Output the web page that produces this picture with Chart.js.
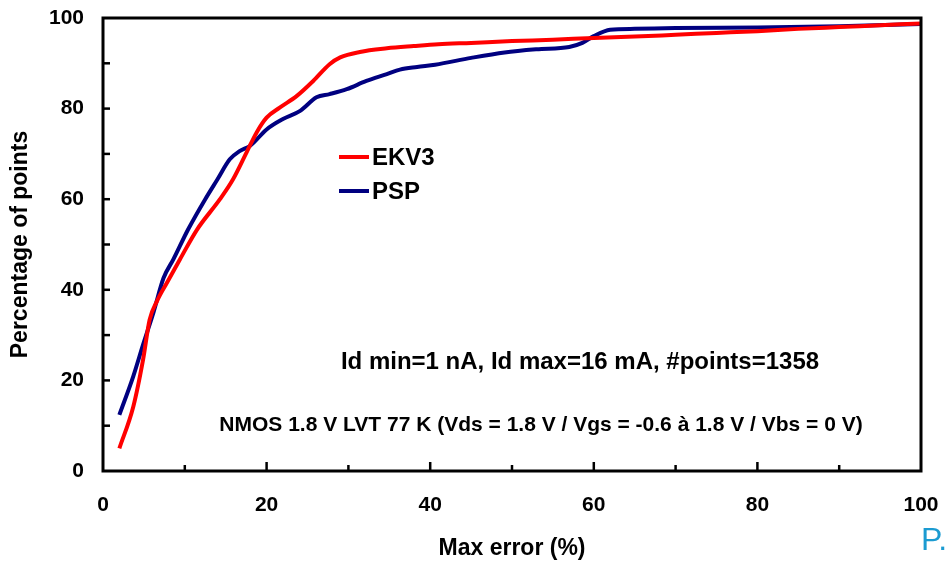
<!DOCTYPE html>
<html>
<head>
<meta charset="utf-8">
<script src="https://cdn.jsdelivr.net/npm/chart.js@4/dist/chart.umd.min.js"></script>
<style>
  body { margin: 0; background: #fff; }
  #wrap { position: relative; width: 948px; height: 563px; }
</style>
</head>
<body>
<div id="wrap"><canvas id="myChart" width="948" height="563"></canvas></div>
<script>
// values
var ekvX = [2, 3.7, 4.9, 5.7, 6.6, 7.8, 9.4, 11.5, 14.3, 15.9, 17.6, 18.8, 20, 21.6, 23.7, 25.7, 27.7, 29, 31.4, 34.7, 38, 41, 45, 50, 55, 60, 65, 70, 75, 80, 85, 90, 95, 100];
var ekvY = [5, 14.2, 24.6, 33.4, 37.5, 41.5, 46.7, 53.3, 60, 64.4, 70.5, 74.8, 78, 80.2, 82.8, 86.1, 89.8, 91.3, 92.5, 93.3, 93.8, 94.2, 94.5, 94.9, 95.2, 95.6, 95.9, 96.3, 96.7, 97.1, 97.6, 98, 98.4, 98.8];

var pspX = [2, 3.7, 4.9, 6.2, 7.4, 8.6, 10.4, 12.5, 14, 15.5, 16.7, 18, 20, 22, 24.1, 26.1, 27.7, 29.8, 32.2, 34.7, 36.3, 38.4, 40.6, 45, 49.1, 53, 57, 58.6, 60, 62, 65, 70, 80, 90, 100];
var pspY = [12.4, 20.9, 27.9, 35.2, 42.6, 46.7, 53.3, 60, 64.4, 68.8, 70.6, 71.8, 75.4, 77.7, 79.5, 82.5, 83.2, 84.3, 86.1, 87.6, 88.6, 89.2, 89.7, 91.2, 92.4, 93.1, 93.6, 94.5, 96, 97.4, 97.6, 97.8, 97.9, 98.2, 98.7];

var seriesNames = ["EKV3", "PSP"];
var seriesColors = ["#ff0000", "#000080"];
var noteLines = ["Id min=1 nA, Id max=16 mA, #points=1358",
                 "NMOS 1.8 V LVT 77 K (Vds = 1.8 V / Vgs = -0.6 à 1.8 V / Vbs = 0 V)"];

var FONT = "'Liberation Sans', Arial, sans-serif";

function toPoints(xs, ys) {
  return xs.map(function (x, i) { return { x: x, y: ys[i] }; });
}

// frame with inward ticks, legend and notes
var extras = {
  id: 'extras',
  afterDatasetsDraw: function (chart) {
    var ctx = chart.ctx;
    var a = chart.chartArea;
    var xs = chart.scales.x, ys = chart.scales.y;
    ctx.save();
    ctx.strokeStyle = '#000';
    ctx.lineWidth = 2.5;
    ctx.lineCap = 'butt';
    for (var v = 10; v < 100; v += 10) {
      var px = xs.getPixelForValue(v);
      var len = (v % 20 === 0) ? 9 : 6;
      ctx.beginPath(); ctx.moveTo(px, a.bottom); ctx.lineTo(px, a.bottom - len); ctx.stroke();
      var py = ys.getPixelForValue(v);
      ctx.beginPath(); ctx.moveTo(a.left, py); ctx.lineTo(a.left + 7, py); ctx.stroke();
    }
    ctx.lineWidth = 3;
    ctx.strokeRect(a.left, a.top, a.right - a.left, a.bottom - a.top);

    // legend
    ctx.font = 'bold 24px ' + FONT;
    ctx.textBaseline = 'middle';
    ctx.textAlign = 'left';
    for (var i = 0; i < seriesNames.length; i++) {
      var ly = 157 + i * 34;
      ctx.strokeStyle = seriesColors[i];
      ctx.lineWidth = 4;
      ctx.beginPath(); ctx.moveTo(339, ly); ctx.lineTo(369, ly); ctx.stroke();
      ctx.fillStyle = '#000';
      ctx.fillText(seriesNames[i], 372, ly + 1);
    }

    // notes
    ctx.textAlign = 'center';
    ctx.font = 'bold 24px ' + FONT;
    ctx.fillText(noteLines[0], 580, 362);
    ctx.font = 'bold 21px ' + FONT;
    ctx.fillText(noteLines[1], 541, 425);

    // slide page marker
    ctx.textAlign = 'left';
    ctx.fillStyle = '#1b9bd1';
    ctx.font = '32px ' + FONT;
    ctx.fillText('P.', 921, 541);
    ctx.restore();
  }
};

var ctx = document.getElementById('myChart').getContext('2d');
new Chart(ctx, {
  type: 'line',
  data: {
    datasets: [{
      label: seriesNames[0],
      data: toPoints(ekvX, ekvY),
      borderColor: seriesColors[0],
      borderWidth: 4,
      pointRadius: 0,
      cubicInterpolationMode: 'monotone',
      fill: false
    }, {
      label: seriesNames[1],
      data: toPoints(pspX, pspY),
      borderColor: seriesColors[1],
      borderWidth: 4,
      pointRadius: 0,
      cubicInterpolationMode: 'monotone',
      fill: false
    }]
  },
  options: {
    responsive: false,
    animation: false,
    devicePixelRatio: 1,
    layout: { padding: { top: 18, right: 27, left: 0, bottom: 0 } },
    plugins: {
      legend: { display: false },
      tooltip: { enabled: false }
    },
    scales: {
      x: {
        type: 'linear',
        min: 0, max: 100,
        grid: { display: false, drawTicks: false },
        border: { display: false },
        ticks: { stepSize: 20, padding: 22, color: '#000', font: { family: FONT, size: 21, weight: 'bold' } },
        title: { display: true, text: 'Max error (%)', color: '#000', padding: { top: 1, bottom: 1 }, font: { family: FONT, size: 23, weight: 'bold' } },
        afterFit: function (s) { s.height = 92; s.paddingLeft = 0; s.paddingRight = 0; }
      },
      y: {
        min: 0, max: 100,
        grid: { display: false, drawTicks: false },
        border: { display: false },
        ticks: { stepSize: 20, padding: 19, color: '#000', font: { family: FONT, size: 21, weight: 'bold' } },
        title: { display: true, text: 'Percentage of points', color: '#000', padding: { top: 7, bottom: 7 }, font: { family: FONT, size: 23, weight: 'bold' } },
        afterFit: function (s) { s.width = 103; s.paddingTop = 0; s.paddingBottom = 0; }
      }
    }
  },
  plugins: [extras]
});
</script>
</body>
</html>
